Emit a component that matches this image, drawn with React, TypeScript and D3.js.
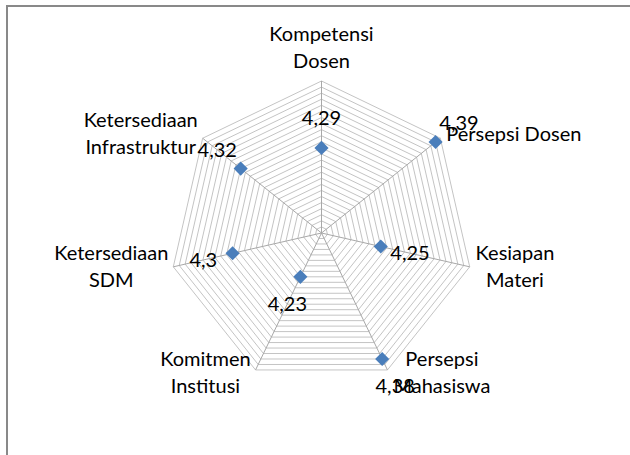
import React, { useEffect, useRef } from "react";
import * as d3 from "d3";

// categories (clockwise from top), split into the lines shown on the chart
const categoryLines: string[][] = [
  ["Kompetensi", "Dosen"],
  ["Persepsi Dosen"],
  ["Kesiapan", "Materi"],
  ["Persepsi", "Mahasiswa"],
  ["Komitmen", "Institusi"],
  ["Ketersediaan", "SDM"],
  ["Ketersediaan", "Infrastruktur"],
];
const values = [4.29, 4.39, 4.25, 4.38, 4.23, 4.3, 4.32];

// value axis of the radar
const axisMin = 4.15;
const axisMax = 4.4;
const axisStep = 0.01;

const W = 630;
const H = 455;

export default function App() {
  const ref = useRef<SVGSVGElement>(null);

  useEffect(() => {
    const svg = d3.select(ref.current);
    svg.selectAll("*").remove();

    const font = "Lato, 'Liberation Sans', sans-serif";
    const cx = 321.5,
      cy = 233,
      radius = 152;

    svg.append("rect").attr("width", W).attr("height", H).attr("fill", "#fff");
    // outer frame (only top and left edges are in view)
    svg
      .append("path")
      .attr("d", `M7,${H} V6 H${W}`)
      .attr("fill", "none")
      .attr("stroke", "#898989")
      .attr("stroke-width", 2);

    const g = svg.append("g").attr("transform", `translate(${cx},${cy})`);
    const n = categoryLines.length;
    const r = d3.scaleLinear().domain([axisMin, axisMax]).range([0, radius]);
    const angle = d3.scaleLinear().domain([0, n]).range([0, 2 * Math.PI]);

    // rings
    const rings = d3.range(axisMin + axisStep, axisMax + axisStep / 2, axisStep);
    rings.forEach((v) => {
      const line = d3
        .lineRadial<number>()
        .angle((d) => angle(d))
        .radius(() => r(v))
        .curve(d3.curveLinearClosed);
      g.append("path")
        .attr("d", line(d3.range(n)))
        .attr("fill", "none")
        .attr("stroke", "#c4c4c4")
        .attr("stroke-width", 1);
    });

    // spokes
    g.selectAll(".spoke")
      .data(d3.range(n))
      .join("line")
      .attr("class", "spoke")
      .attr("x1", 0)
      .attr("y1", 0)
      .attr("x2", (i) => d3.pointRadial(angle(i), radius)[0])
      .attr("y2", (i) => d3.pointRadial(angle(i), radius)[1])
      .attr("stroke", "#a8a8a8")
      .attr("stroke-width", 1);

    // markers
    g.selectAll(".marker")
      .data(values)
      .join("path")
      .attr("class", "marker")
      .attr("d", d3.symbol(d3.symbolSquare, 100)())
      .attr("transform", (d, i) => {
        const [x, y] = d3.pointRadial(angle(i), r(d));
        return `translate(${x},${y}) rotate(45)`;
      })
      .attr("fill", "#4a7ebb");

    // data labels
    g.selectAll(".dlabel")
      .data(values)
      .join("text")
      .attr("class", "dlabel")
      .attr("x", (d, i) => d3.pointRadial(angle(i), r(d) + 30)[0])
      .attr("y", (d, i) => d3.pointRadial(angle(i), r(d) + 30)[1])
      .attr("dy", "0.35em")
      .attr("text-anchor", "middle")
      .attr("font-family", font)
      .attr("font-size", 20)
      .attr("fill", "#000")
      .text((d) => String(d).replace(".", ","));

    // category labels
    const lineH = 27;
    categoryLines.forEach((lines, i) => {
      const a = angle(i);
      const [vx, vy] = d3.pointRadial(a, radius);
      const sx = Math.sin(a);
      const dy = -Math.cos(a);
      const t = g
        .append("text")
        .attr("font-family", font)
        .attr("font-size", 20)
        .attr("fill", "#000")
        .attr("text-anchor", "middle");
      const spans = lines.map((s) => t.append("tspan").text(s));
      const bw = d3.max(spans, (s) => (s.node() as SVGTSpanElement).getComputedTextLength()) || 0;
      let bx: number;
      let by: number;
      if (Math.abs(sx) < 0.3) {
        bx = vx;
        by = vy - 7 - (lines.length * lineH) / 2;
      } else {
        bx = sx > 0 ? vx + 6 + bw / 2 : vx - 5 - bw / 2;
        by = vy + dy * 5 - 1.5;
      }
      spans.forEach((s, k) => {
        s.attr("x", bx)
          .attr("y", by + (k - (lines.length - 1) / 2) * lineH)
          .attr("dy", "0.35em");
      });
    });
  }, []);

  return (
    <svg
      ref={ref}
      width={W}
      height={H}
      style={{ position: "absolute", left: 0, top: 0, display: "block" }}
    />
  );
}
